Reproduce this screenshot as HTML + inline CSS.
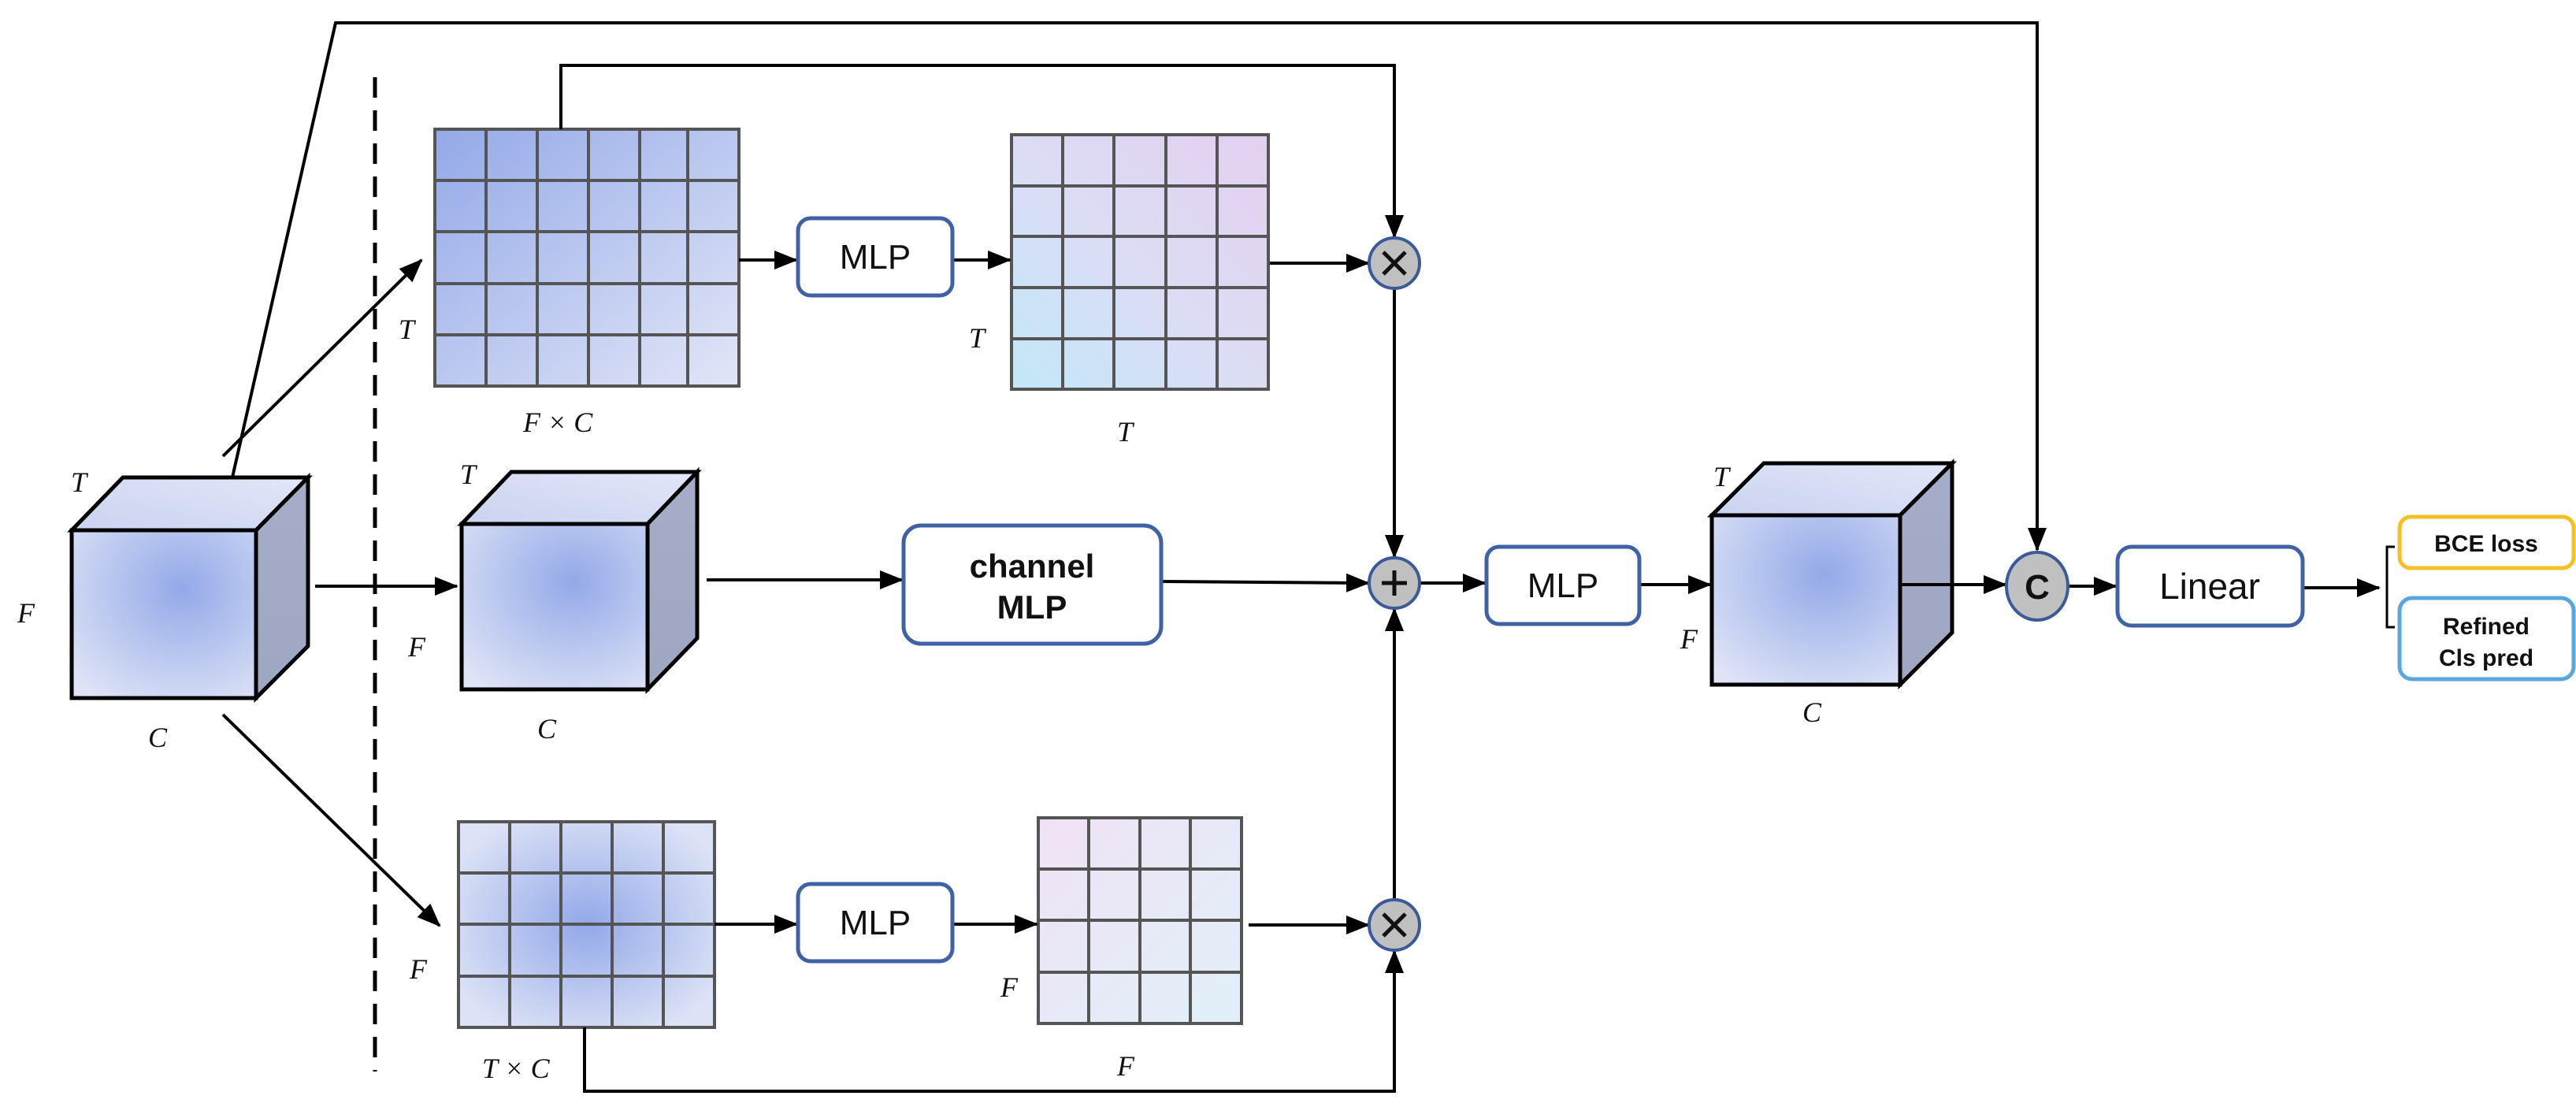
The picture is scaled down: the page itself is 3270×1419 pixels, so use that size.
<!DOCTYPE html>
<html><head><meta charset="utf-8"><style>
html,body{margin:0;padding:0;background:#fff;}
svg{display:block;}
.it{font-family:"Liberation Serif",serif;font-style:italic;font-size:36px;fill:#111;}
.bx{font-family:"Liberation Sans",sans-serif;fill:#111;text-anchor:middle;}
</style></head><body>
<svg width="3270" height="1419" viewBox="0 0 3270 1419" xmlns="http://www.w3.org/2000/svg">
<defs>
<marker id="a" markerUnits="userSpaceOnUse" markerWidth="30" markerHeight="24" refX="28" refY="12" orient="auto"><path d="M0,0 L30,12 L0,24 z" fill="#000"/></marker>
<radialGradient id="cf" cx="0.6" cy="0.35" r="0.8"><stop offset="0" stop-color="#93a9e8"/><stop offset="1" stop-color="#dfe4f6"/></radialGradient>
<linearGradient id="ct" x1="0" y1="1" x2="1" y2="0"><stop offset="0" stop-color="#c9d2f0"/><stop offset="1" stop-color="#e2e7f8"/></linearGradient>
<linearGradient id="cs" x1="0" y1="0" x2="0" y2="1"><stop offset="0" stop-color="#a5adc8"/><stop offset="1" stop-color="#9ea6c2"/></linearGradient>
<linearGradient id="g1" x1="0" y1="0" x2="1" y2="1"><stop offset="0" stop-color="#93a9e8"/><stop offset="1" stop-color="#e2e6f7"/></linearGradient>
<linearGradient id="g2" x1="1" y1="0" x2="0" y2="1"><stop offset="0" stop-color="#e4d0f0"/><stop offset="0.5" stop-color="#dcdcf4"/><stop offset="1" stop-color="#c2e8f8"/></linearGradient>
<radialGradient id="g3" cx="0.5" cy="0.5" r="0.6"><stop offset="0" stop-color="#92a8e8"/><stop offset="1" stop-color="#dde3f6"/></radialGradient>
<linearGradient id="g4" x1="0" y1="0" x2="1" y2="1"><stop offset="0" stop-color="#f0e2f6"/><stop offset="1" stop-color="#e0f0f8"/></linearGradient>
</defs>

<polyline points="235,870 426,29 2586,29 2586,698" fill="none" stroke="#000" stroke-width="4" marker-end="url(#a)"/>
<line x1="476" y1="98" x2="476" y2="1360" stroke="#000" stroke-width="5" stroke-dasharray="26,16"/>

<g stroke="#000" stroke-width="5" stroke-linejoin="miter">
<polygon points="91,673 156,606 391,606 325,673" fill="url(#ct)"/>
<polygon points="325,673 391,606 391,820 325,886" fill="url(#cs)"/>
<rect x="91" y="673" width="234" height="213" fill="url(#cf)"/>
<polygon points="586,665 649,599 885,599 822,665" fill="url(#ct)"/>
<polygon points="822,665 885,599 885,810 822,875" fill="url(#cs)"/>
<rect x="586" y="665" width="236" height="210" fill="url(#cf)"/>
<polygon points="2173,654 2239,588 2478,588 2412,654" fill="url(#ct)"/>
<polygon points="2412,654 2478,588 2478,803 2412,869" fill="url(#cs)"/>
<rect x="2173" y="654" width="239" height="215" fill="url(#cf)"/>
</g>

<g stroke="#555" stroke-width="4" fill="none">
<rect x="552" y="164" width="386" height="326" fill="url(#g1)"/>
<path d="M617,164V490M682,164V490M747,164V490M812,164V490M873,164V490M552,229H938M552,294H938M552,360H938M552,425H938"/>
<rect x="1284" y="171" width="326" height="323" fill="url(#g2)"/>
<path d="M1349,171V494M1414,171V494M1480,171V494M1545,171V494M1284,236H1610M1284,300H1610M1284,365H1610M1284,430H1610"/>
<rect x="582" y="1043" width="325" height="261" fill="url(#g3)"/>
<path d="M647,1043V1304M712,1043V1304M777,1043V1304M842,1043V1304M582,1108H907M582,1173H907M582,1239H907"/>
<rect x="1318" y="1038" width="258" height="261" fill="url(#g4)"/>
<path d="M1382,1038V1299M1447,1038V1299M1511,1038V1299M1318,1103H1576M1318,1168H1576M1318,1234H1576"/>
</g>

<g stroke="#000" stroke-width="4" fill="none">
<line x1="283" y1="579" x2="535" y2="330" marker-end="url(#a)"/>
<line x1="283" y1="907" x2="558" y2="1175" marker-end="url(#a)"/>
<line x1="400" y1="744" x2="580" y2="744" marker-end="url(#a)"/>
<line x1="938" y1="330" x2="1011" y2="330" marker-end="url(#a)"/>
<line x1="1209" y1="330" x2="1282" y2="330" marker-end="url(#a)"/>
<line x1="1612" y1="334" x2="1737" y2="334" marker-end="url(#a)"/>
<polyline points="712,164 712,83 1770,83 1770,301" marker-end="url(#a)"/>
<line x1="907" y1="1173" x2="1011" y2="1173" marker-end="url(#a)"/>
<line x1="1209" y1="1173" x2="1316" y2="1173" marker-end="url(#a)"/>
<line x1="1585" y1="1174" x2="1737" y2="1174" marker-end="url(#a)"/>
<polyline points="742,1304 742,1385 1770,1385 1770,1207" marker-end="url(#a)"/>
<line x1="897" y1="736" x2="1145" y2="736" marker-end="url(#a)"/>
<line x1="1474" y1="738" x2="1737" y2="740" marker-end="url(#a)"/>
<line x1="1770" y1="367" x2="1770" y2="707" marker-end="url(#a)"/>
<line x1="1770" y1="1141" x2="1770" y2="773" marker-end="url(#a)"/>
<line x1="1803" y1="740" x2="1885" y2="740" marker-end="url(#a)"/>
<line x1="2081" y1="742" x2="2171" y2="742" marker-end="url(#a)"/>
<line x1="2412" y1="742" x2="2546" y2="742" marker-end="url(#a)"/>
<line x1="2627" y1="744" x2="2686" y2="744" marker-end="url(#a)"/>
<line x1="2925" y1="746" x2="3020" y2="746" marker-end="url(#a)"/>
<path d="M3040,694 H3030 V796 H3040" stroke-width="3"/>
</g>

<g stroke="#3a5a9a" stroke-width="4" fill="#c0c0c0">
<circle cx="1770" cy="334" r="32"/>
<circle cx="1770" cy="740" r="32"/>
<circle cx="1770" cy="1174" r="32"/>
<ellipse cx="2586" cy="744" rx="39" ry="43"/>
</g>
<g stroke="#111" stroke-width="5">
<path d="M1756,320L1784,348M1784,320L1756,348"/>
<path d="M1756,1160L1784,1188M1784,1160L1756,1188"/>
<path d="M1770,724V756M1754,740H1786"/>
</g>
<text x="2586" y="760" class="bx" font-size="44" font-weight="bold">C</text>

<g stroke="#3f62a6" stroke-width="5" fill="#fff">
<rect x="1013" y="277" width="196" height="98" rx="16"/>
<rect x="1013" y="1122" width="196" height="98" rx="16"/>
<rect x="1147" y="667" width="327" height="150" rx="22"/>
<rect x="1887" y="694" width="194" height="98" rx="16"/>
<rect x="2688" y="694" width="235" height="100" rx="18"/>
<rect x="3046" y="656" width="221" height="65" rx="14" stroke="#f5c024"/>
<rect x="3046" y="759" width="221" height="103" rx="16" stroke="#5aa6e0"/>
</g>
<text x="1111" y="341" class="bx" font-size="44">MLP</text>
<text x="1111" y="1186" class="bx" font-size="44">MLP</text>
<text x="1310" y="733" class="bx" font-size="42" font-weight="bold">channel</text>
<text x="1310" y="785" class="bx" font-size="42" font-weight="bold">MLP</text>
<text x="1984" y="758" class="bx" font-size="44">MLP</text>
<text x="2805" y="760" class="bx" font-size="46">Linear</text>
<text x="3156" y="700" class="bx" font-size="30" font-weight="bold">BCE loss</text>
<text x="3156" y="805" class="bx" font-size="30" font-weight="bold">Refined</text>
<text x="3156" y="845" class="bx" font-size="30" font-weight="bold">Cls pred</text>

<text class="it" x="90" y="624">T</text>
<text class="it" x="22" y="790">F</text>
<text class="it" x="188" y="948">C</text>
<text class="it" x="584" y="614">T</text>
<text class="it" x="518" y="833">F</text>
<text class="it" x="682" y="937">C</text>
<text class="it" x="506" y="430">T</text>
<text class="it" x="664" y="548">F × C</text>
<text class="it" x="1230" y="441">T</text>
<text class="it" x="1418" y="560">T</text>
<text class="it" x="520" y="1242">F</text>
<text class="it" x="612" y="1368">T × C</text>
<text class="it" x="1270" y="1265">F</text>
<text class="it" x="1418" y="1365">F</text>
<text class="it" x="2175" y="617">T</text>
<text class="it" x="2133" y="823">F</text>
<text class="it" x="2288" y="916">C</text>
</svg>
</body></html>
